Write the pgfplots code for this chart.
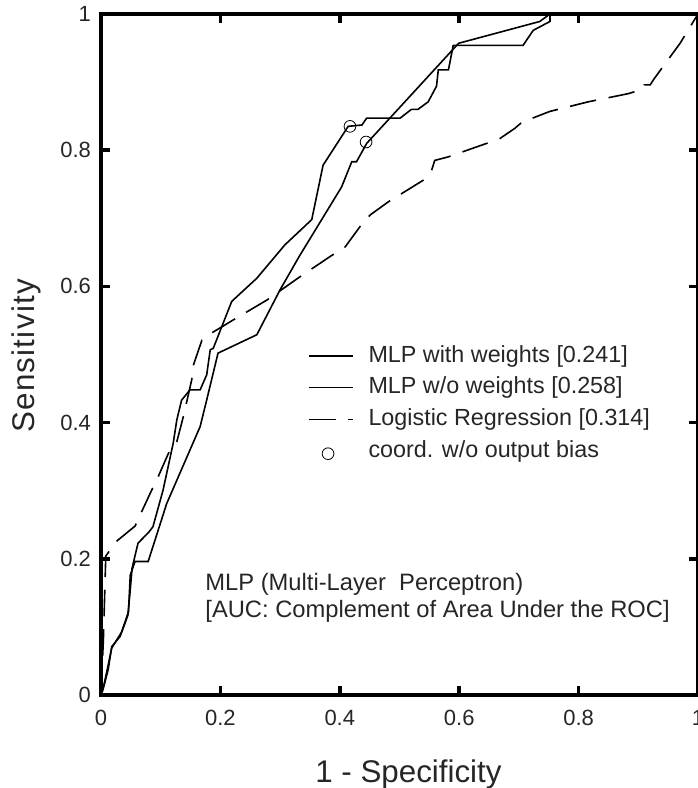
\documentclass[border=0pt]{standalone}
\usepackage{fontspec}
\setmainfont{Liberation Sans}
\setsansfont{Liberation Sans}
\newfontfamily\ylfont{Liberation Sans}[LetterSpace=4]
\usepackage{pgfplots}
\pgfplotsset{compat=1.18}
\pgfplotsset{circlelegend/.style={legend image code/.code={%
  \draw[black, line width=0.6pt, mark=o, mark size=4.4pt] plot coordinates {(14.25pt,-2pt)};}}}

\begin{document}
\begin{tikzpicture}
\begin{axis}[name=ax,
  scale only axis, width=447.75pt, height=510.75pt,
  xmin=0, xmax=1, ymin=0, ymax=1,
  xtick={0,0.2,0.4,0.6,0.8,1}, ytick={0,0.2,0.4,0.6,0.8,1},
  tick align=inside, tick pos=both,
  major tick length=7pt,
  tick style={black, line width=2.6pt},
  axis line style={line width=2.6pt},
  /pgf/number format/assume math mode=true,
  ticklabel style={font=\fontsize{16.5}{19}\selectfont, text=black!85},
  yticklabel style={xshift=-4pt},
  xticklabel style={yshift=-8pt},
  xlabel={1 - Specificity}, ylabel={\ylfont Sensitivity},
  xlabel style={font=\fontsize{23.5}{27}\selectfont, text=black!85,
    at={(axis description cs:0.515,-0.1278)}, anchor=base},
  ylabel style={font=\fontsize{23.5}{27}\selectfont, text=black!85,
    at={(axis description cs:-0.112,0.498)}, anchor=base},
  legend style={at={(0.3467,0.5148)}, anchor=north west, draw=none, fill=none,
    inner sep=0pt, font=\fontsize{17.5}{21}\selectfont, text=black!85,
    row sep=6.75pt, column sep=11pt,
    nodes={inner sep=0pt, text height=13pt, text depth=4pt}},
  legend cell align=left,
  legend image code/.code={\draw[#1] (0pt,0pt) -- (33pt,0pt);},
]
% MLP with weights
\addplot[black, line width=1.2pt] coordinates {
 (0,0) (0.005,0.015) (0.012,0.044) (0.018,0.069) (0.035,0.093) (0.045,0.117)
 (0.049,0.154) (0.052,0.186) (0.062,0.223) (0.079,0.238) (0.087,0.247)
 (0.104,0.301) (0.121,0.370) (0.127,0.404) (0.135,0.433) (0.149,0.448)
 (0.166,0.448) (0.177,0.470) (0.183,0.507) (0.188,0.509) (0.219,0.578)
 (0.261,0.612) (0.308,0.661) (0.353,0.698) (0.372,0.778) (0.414,0.835)
 (0.437,0.837) (0.445,0.847) (0.501,0.847) (0.520,0.860) (0.531,0.860)
 (0.548,0.871) (0.562,0.894) (0.565,0.918) (0.582,0.918) (0.590,0.954)
 (0.707,0.954) (0.724,0.976) (0.752,0.989) (0.752,1) (1,1)};
\addlegendentry{MLP with weights [0.241]}
% MLP w/o weights
\addplot[black, line width=1.2pt] coordinates {
 (0,0) (0.003,0.007) (0.012,0.037) (0.018,0.071) (0.032,0.086) (0.046,0.122)
 (0.049,0.176) (0.057,0.196) (0.079,0.196) (0.110,0.281) (0.166,0.394)
 (0.177,0.433) (0.196,0.502) (0.261,0.529) (0.300,0.595) (0.332,0.644)
 (0.403,0.746) (0.420,0.783) (0.428,0.783) (0.445,0.810) (0.599,0.957)
 (0.735,0.989) (0.752,1) (1,1)};
\addlegendentry{MLP w/o weights [0.258]}
% logistic regression
\addplot[black, line width=1.2pt, dash pattern=on 20pt off 9.5pt] coordinates {
 (0,0) (0.004,0.081) (0.008,0.204) (0.025,0.225) (0.057,0.248) (0.068,0.269)
 (0.085,0.301) (0.096,0.321) (0.113,0.355) (0.127,0.372) (0.138,0.409)
 (0.152,0.463) (0.155,0.485) (0.169,0.521) (0.188,0.533) (0.222,0.551)
 (0.278,0.580) (0.333,0.614) (0.384,0.644) (0.409,0.658) (0.434,0.688)
 (0.451,0.705) (0.481,0.724) (0.540,0.756) (0.554,0.771) (0.559,0.785)
 (0.581,0.790) (0.646,0.810) (0.668,0.817) (0.693,0.832) (0.705,0.841)
 (0.752,0.857) (0.816,0.871) (0.883,0.883) (0.906,0.889) (0.910,0.896)
 (0.920,0.896) (0.925,0.903) (0.970,0.957) (1,1)};
\addlegendentry{Logistic Regression [0.314]}
% points without output bias
\addplot[black, line width=0.6pt, only marks, mark=o, mark size=4.4pt, circlelegend]
  coordinates {(0.417,0.835) (0.444,0.812)};
\addlegendentry{coord. w/o output bias}

\node[anchor=base west, font=\fontsize{17.8}{21}\selectfont, text=black!85]
  at (axis cs:0.167,0.153) {MLP (Multi-Layer\ \ Perceptron)};
\node[anchor=base west, font=\fontsize{17.8}{21}\selectfont, text=black!85]
  at (axis cs:0.167,0.1145) {[AUC: Complement of Area Under the ROC]};
\end{axis}
\pgfresetboundingbox
\path[use as bounding box] ([xshift=-75.75pt,yshift=-69.75pt]ax.south west)
  rectangle ([yshift=10.5pt]ax.north east);
\end{tikzpicture}
\end{document}
